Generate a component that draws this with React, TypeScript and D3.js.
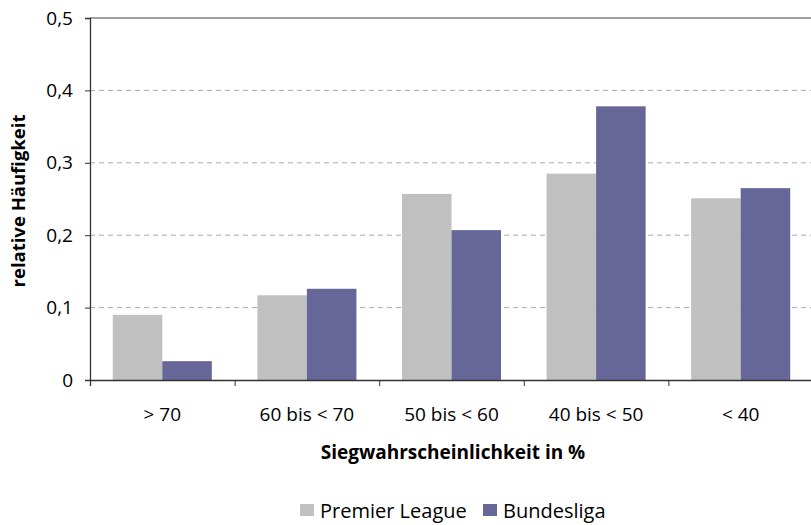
import * as d3 from 'd3';
import React, { useEffect, useRef } from 'react';

const categories = ['> 70', '60 bis < 70', '50 bis < 60', '40 bis < 50', '< 40'];
const seriesNames = ['Premier League', 'Bundesliga'];
const premierLeague = [0.09, 0.117, 0.257, 0.285, 0.251];
const bundesliga = [0.026, 0.126, 0.207, 0.378, 0.265];
const yTicks = [0, 0.1, 0.2, 0.3, 0.4, 0.5];
const colors = ['#c0c0c0', '#666699'];

const App: React.FC = () => {
  const ref = useRef<SVGSVGElement | null>(null);

  useEffect(() => {
    if (!ref.current) return;
    const svg = d3.select(ref.current);
    svg.selectAll('*').remove();

    const margin = { top: 18, right: -2, bottom: 145, left: 90 };
    const W = 811;
    const H = 525;
    const width = W - margin.left - margin.right;
    const height = H - margin.top - margin.bottom;
    const font = '"Open Sans", "DejaVu Sans", sans-serif';

    const g = svg.append('g').attr('transform', `translate(${margin.left},${margin.top})`);

    const x0 = d3.scaleBand().domain(categories).range([0, width]);
    const x1 = d3
      .scaleBand()
      .domain(seriesNames)
      .range([0, x0.bandwidth()])
      .paddingInner(0)
      .paddingOuter(0.46);
    const y = d3.scaleLinear().domain([0, 0.5]).range([height, 0]);

    // Gitterlinien
    g.selectAll('line.grid')
      .data(yTicks.filter((t) => t > 0 && t < 0.5))
      .enter()
      .append('line')
      .attr('x1', 0)
      .attr('x2', width)
      .attr('y1', (d) => y(d))
      .attr('y2', (d) => y(d))
      .attr('stroke', '#aaaaaa')
      .attr('stroke-width', 1)
      .attr('stroke-dasharray', '5,4');

    g.append('line')
      .attr('x1', 0)
      .attr('x2', width)
      .attr('y1', y(0.5))
      .attr('y2', y(0.5))
      .attr('stroke', '#808080')
      .attr('stroke-width', 1.3);

    // Balken
    const data = categories.map((c, i) => ({ c, vals: [premierLeague[i], bundesliga[i]] }));
    const groups = g
      .selectAll('g.cat')
      .data(data)
      .enter()
      .append('g')
      .attr('transform', (d) => `translate(${x0(d.c)},0)`);
    groups
      .selectAll('rect')
      .data((d) => d.vals.map((v, j) => ({ name: seriesNames[j], v, j })))
      .enter()
      .append('rect')
      .attr('x', (d) => x1(d.name) as number)
      .attr('width', x1.bandwidth())
      .attr('y', (d) => y(d.v))
      .attr('height', (d) => height - y(d.v))
      .attr('fill', (d) => colors[d.j]);

    // Achsen
    const yAxis = d3
      .axisLeft(y)
      .tickValues(yTicks)
      .tickSize(5)
      .tickFormat((d) => (d === 0 ? '0' : d3.format('.1f')(d as number).replace('.', ',')));
    const ya = g.append('g').call(yAxis);
    ya.select('.domain').attr('stroke', '#333').attr('stroke-width', 1.3);
    ya.selectAll('.tick line').attr('stroke', '#333');
    ya.selectAll('.tick text')
      .attr('x', -17)
      .style('font-family', font)
      .style('font-size', '19px')
      .attr('fill', '#000');

    const xAxis = d3
      .axisBottom(d3.scalePoint().domain(d3.range(categories.length + 1).map(String)).range([0, width]))
      .tickSize(6)
      .tickFormat(() => '');
    const xa = g.append('g').attr('transform', `translate(0,${height})`).call(xAxis);
    xa.select('.domain').attr('stroke', '#333').attr('stroke-width', 1.3);
    xa.selectAll('.tick line').attr('stroke', '#333');

    g.selectAll('text.cat')
      .data(categories)
      .enter()
      .append('text')
      .attr('x', (d) => (x0(d) as number) + x0.bandwidth() / 2)
      .attr('y', height + 41)
      .attr('text-anchor', 'middle')
      .style('font-family', font)
      .style('font-size', '19px')
      .text((d) => d);

    // Achsentitel
    svg
      .append('text')
      .attr('transform', `translate(25,${margin.top + height / 2 + 2}) rotate(-90)`)
      .attr('text-anchor', 'middle')
      .style('font-family', font)
      .style('font-size', '18.5px')
      .style('font-weight', 'bold')
      .text('relative Häufigkeit');

    svg
      .append('text')
      .attr('x', 453)
      .attr('y', 459)
      .attr('text-anchor', 'middle')
      .style('font-family', font)
      .style('font-size', '19px')
      .style('font-weight', 'bold')
      .text('Siegwahrscheinlichkeit in %');

    // Legende
    const legendX = [300, 483];
    seriesNames.forEach((name, i) => {
      svg
        .append('rect')
        .attr('x', legendX[i])
        .attr('y', 504)
        .attr('width', 14)
        .attr('height', 12)
        .attr('fill', colors[i]);
      svg
        .append('text')
        .attr('x', legendX[i] + 20)
        .attr('y', 518)
        .style('font-family', font)
        .style('font-size', '20px')
        .text(name);
    });
  }, []);

  return (
    <svg
      ref={ref}
      width={811}
      height={525}
      style={{ position: 'absolute', left: 0, top: 0, background: '#fff' }}
    />
  );
};

export default App;
